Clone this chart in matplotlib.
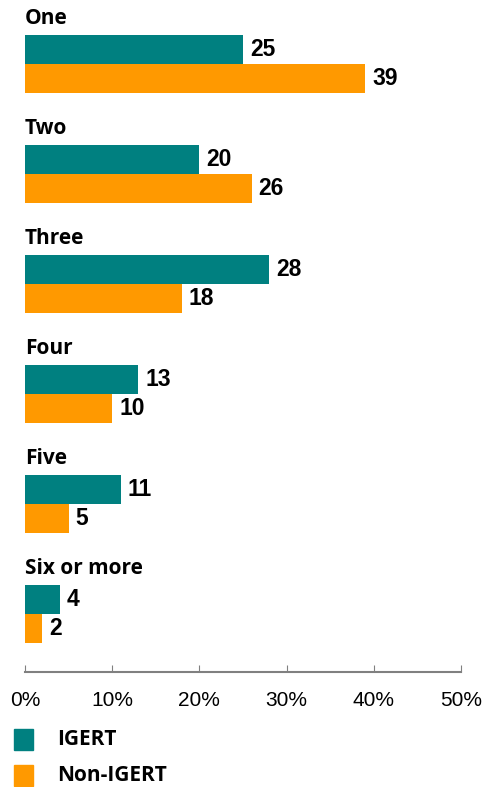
import numpy as np
import matplotlib.pyplot as plt
from matplotlib.patches import Rectangle

categories = ["One", "Two", "Three", "Four", "Five", "Six or more"]
igert = [25, 20, 28, 13, 11, 4]
non_igert = [39, 26, 18, 10, 5, 2]
ticks = [0, 10, 20, 30, 40, 50]

TEAL = "#008080"
ORANGE = "#FF9900"

W, H = 483, 787
fig = plt.figure(figsize=(W / 100, H / 100), dpi=100)
# axes spans x 25..461 px, y 0..672 px (from top)
ax = fig.add_axes([25 / W, (H - 672) / H, 436 / W, 672 / H])

step = 110.0
bh = 29 / step
y = np.arange(len(categories))
ax.barh(y, igert, height=bh, color=TEAL, align="center")
ax.barh(y + bh, non_igert, height=bh, color=ORANGE, align="center")

for i, cat in enumerate(categories):
    ax.text(0, i - 31.5 / step, cat, ha="left", va="center", fontsize=15,
            fontweight="bold", family="Open Sans", color="black")
    ax.text(igert[i] + 0.8, i, str(igert[i]), ha="left", va="center",
            fontsize=16.5, fontweight="bold", family="Liberation Sans")
    ax.text(non_igert[i] + 0.8, i + bh, str(non_igert[i]), ha="left", va="center",
            fontsize=16.5, fontweight="bold", family="Liberation Sans")

ax.set_xlim(0, 50)
ax.set_ylim((672 - 49.5) / step, -49.5 / step)
ax.set_xticks(ticks)
ax.set_xticklabels([f"{t}%" for t in ticks], family="Liberation Sans", fontsize=15)
ax.tick_params(axis="x", direction="in", length=5, color="#808080", pad=14)
ax.set_yticks([])
for s in ["top", "right", "left"]:
    ax.spines[s].set_visible(False)
ax.spines["bottom"].set_color("#808080")
ax.spines["bottom"].set_linewidth(1.5)

# legend
for k, (lab, col) in enumerate([("IGERT", TEAL), ("Non-IGERT", ORANGE)]):
    top = 729 + k * 36
    fig.add_artist(Rectangle((14 / W, (H - top - 21) / H), 19 / W, 21 / H,
                             color=col, transform=fig.transFigure))
    fig.text(57 / W, (H - top - 10.5) / H, lab, ha="left", va="center",
             fontsize=15, fontweight="bold", family="Open Sans", color="black")

fig.savefig("out.png", dpi=100)
